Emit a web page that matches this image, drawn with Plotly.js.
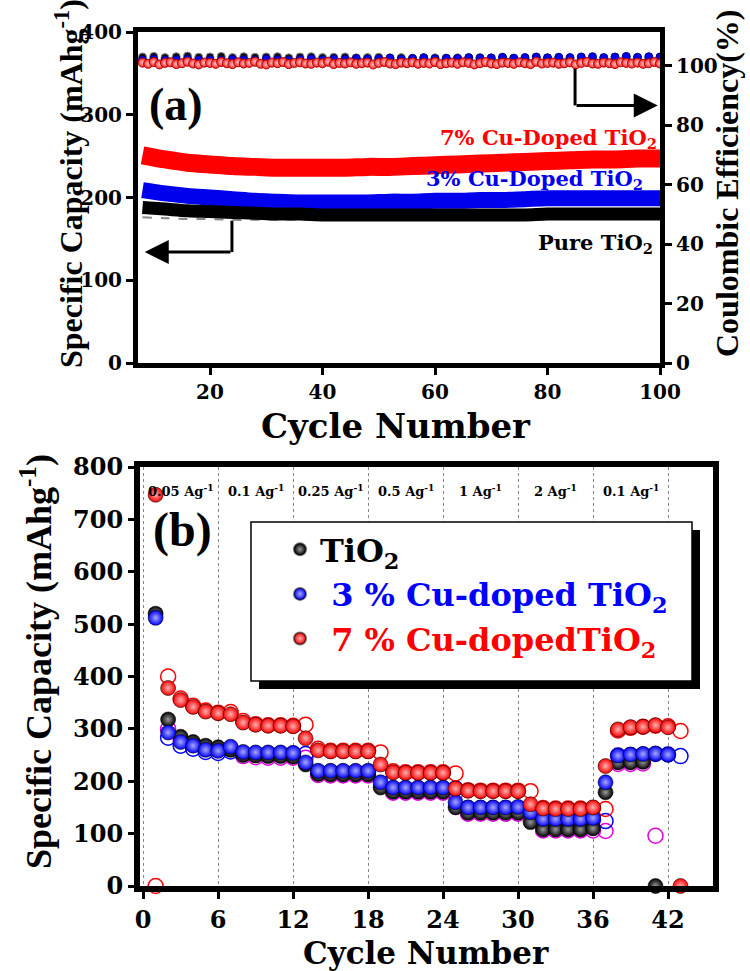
<!DOCTYPE html>
<html>
<head>
<meta charset="utf-8">
<script src="https://cdn.plot.ly/plotly-3.0.1.min.js"></script>
<style>
html,body{margin:0;padding:0;background:#fff;}
#chart{width:750px;height:971px;}
</style>
</head>
<body>
<div id="chart"></div>
<script>
// ---------- Panel (a): cycling at constant current ----------
const capCycles = [8,12,16,20,24,28,32,36,40,44,48,52,56,60,64,68,72,76,80,84,88,92,96,100];
const cap7 = [251,246,242,240,238,237,236,236,236,236,237,237,238,239,240,241,242,243,244,245,246,246,247,247];
const cap3 = [209,205,202,200,198,196,195,194,194,194,194,195,195,196,196,197,197,198,199,199,199,199,199,199];
const capPure = [188,186,184,183,182,181,180,180,179,179,179,179,179,179,179,179,179,179,180,180,180,180,180,180];
const capPureCharge = [176,175,174,174,173,173,173,173,173,173,173,173,173,173,173,173,173,173,174,174,174,174,174,174];

const ceCycles = [8,9,10,11,12,13,14,15,16,17,18,19,20,21,22,23,24,25,26,27,28,29,30,31,32,33,34,35,36,37,38,39,40,41,42,43,44,45,46,47,48,49,50,51,52,53,54,55,56,57,58,59,60,61,62,63,64,65,66,67,68,69,70,71,72,73,74,75,76,77,78,79,80,81,82,83,84,85,86,87,88,89,90,91,92,93,94,95,96,97,98,99,100];
const ce7 = [101.0,100.6,101.2,100.4,100.9,101.1,100.5,100.8,101.3,100.7,
             100.4,101.0,100.9,100.6,101.2,100.8,100.5,101.1,100.7,100.9,
             101.3,100.6,100.4,101.0,100.8,101.2,100.5,100.9,101.1,100.7,
             100.6,101.0,100.8,101.3,100.5,100.9,100.7,101.1,100.6,100.8,
             101.0,100.4,100.9,101.2,100.7,100.5,101.0,100.8,101.1,100.6,
             100.9,100.7,101.2,100.5,100.8,101.0,100.6,101.1,100.9,100.4,
             100.8,101.2,100.7,100.5,101.0,100.9,100.6,101.1,100.8,100.5,
             101.3,100.7,100.9,101.0,100.6,100.8,101.1,100.4,100.9,101.2,
             100.7,100.6,101.0,100.8,100.5,101.1,100.9,100.7,101.0,100.6,
             100.8,101.2,100.7];
const ceCycles2 = [8,10,12,14,16,18,20,22,24,26,28,30,32,34,36,38,40,42,44,46,48,50,52,54,56,58,60,62,64,66,68,70,72,74,76,78,80,82,84,86,88,90,92,94,96,98,100];
const cePure = [102.9,103.1,102.7,103.0,103.2,102.8,102.9,103.1,102.7,103.0,
                102.8,102.9,103.0,102.6,102.9,103.0,102.7,102.8,102.9,102.6,
                102.7,102.8,102.6,102.7,102.5,102.7,102.6,102.4,102.6,102.5,
                102.7,102.4,102.6,102.5,102.3,102.5,102.6,102.4,102.5,102.3,
                102.4,102.5,102.3,102.4,102.5,102.3,102.4];
const ce3 = [101.9,102.1,101.8,102.0,102.2,101.9,102.0,101.8,102.1,102.0,
             101.9,102.2,102.0,101.8,102.1,102.3,102.0,102.2,102.1,102.4,
             102.2,102.3,102.5,102.2,102.4,102.6,102.3,102.5,102.4,102.7,
             102.5,102.6,102.8,102.5,102.7,102.9,102.6,102.8,102.7,102.9,
             103.0,102.7,102.9,103.1,102.8,103.0,102.9];

// ---------- Panel (b): rate capability ----------
const rateCycles = [1,2,3,4,5,6,7,8,9,10,11,12,13,14,15,16,17,18,19,20,21,22,23,24,25,26,27,28,29,30,31,32,33,34,35,36,37,38,39,40,41,42,43];
const tio2Dis = [520,318,285,275,268,265,260,250,249,248,248,247,
                 232,214,213,213,213,213,
                 188,180,180,180,180,180,
                 150,140,140,140,140,140,
                 122,108,108,108,108,110,
                 179,236,236,237,0];
const tio2ChgX = [2,3,4,5,6,7,8,9,10,11,12,13,14,15,16,17,18,19,20,21,22,23,24,25,26,27,28,29,30,31,32,33,34,35,36,37,38,39,40,41];
const tio2Chg = [300,280,270,265,262,262,248,246,245,245,245,245,
                 212,211,211,211,211,211,
                 178,178,178,178,178,178,
                 138,138,138,138,138,138,
                 106,106,106,106,106,105,
                 233,233,234,96];
const cu3Dis = [512,293,275,268,260,258,266,256,255,255,255,254,
                236,220,220,220,220,220,
                198,188,188,188,188,188,
                160,150,150,150,150,151,
                141,128,128,128,128,130,
                198,249,251,252,253,251];
const cu3ChgX = [2,3,4,5,6,7,8,9,10,11,12,13,14,15,16,17,18,19,20,21,22,23,24,25,26,27,28,29,30,31,32,33,34,35,36,37,38,39,40,41,42,43];
const cu3Chg = [283,268,262,256,254,257,253,253,253,253,253,252,
                218,218,218,218,218,218,
                186,186,186,186,186,186,
                149,149,149,149,149,149,
                127,127,127,127,127,124,
                249,250,251,252,251,248];
const cu7Dis = [747,378,355,342,333,330,328,312,308,306,306,305,
                282,259,257,257,257,257,
                232,217,216,216,216,216,
                186,182,181,181,181,181,
                156,148,147,147,147,150,
                229,299,303,304,307,303,0];
const cu7Chg = [0,400,358,344,335,331,332,315,309,307,307,306,308,
                262,258,258,258,258,255,
                219,217,217,217,217,215,
                183,182,182,182,182,181,
                149,148,148,148,149,147,
                297,302,304,306,305,296];

const rateLabels = ['0.05','0.1','0.25','0.5','1','2','0.1'];
const rateCenters = [3,9,15,21,27,33,39];
const xTicksB = [0,6,12,18,24,30,36,42];

// ---------- styling ----------
const DV = 'DejaVu Serif';
const LS = 'Liberation Serif';
const W = 750, H = 971;
const px = v => v / W;
const py = v => (H - v) / H;

function sphere(color, light, size) {
  return {size: size, color: color, line: {color: 'rgba(0,0,0,0.55)', width: 1},
          gradient: {type: 'radial', color: light}};
}

const data = [
  // panel (a) capacity bands
  {x: capCycles, y: capPureCharge, xaxis: 'x', yaxis: 'y', mode: 'lines', showlegend: false,
   line: {color: '#888', width: 2, dash: 'dash', shape: 'spline'}},
  {x: capCycles, y: cap7, xaxis: 'x', yaxis: 'y', mode: 'lines', showlegend: false,
   line: {color: '#ff0000', width: 18, shape: 'spline'}},
  {x: capCycles, y: cap3, xaxis: 'x', yaxis: 'y', mode: 'lines', showlegend: false,
   line: {color: '#0000ee', width: 16, shape: 'spline'}},
  {x: capCycles, y: capPure, xaxis: 'x', yaxis: 'y', mode: 'lines', showlegend: false,
   line: {color: '#000000', width: 13, shape: 'spline'}},
  // panel (a) coulombic efficiency
  {x: ceCycles2, y: cePure, xaxis: 'x', yaxis: 'y3', mode: 'markers', showlegend: false,
   marker: {size: 8, color: '#111', line: {color: '#888', width: 1}}},
  {x: ceCycles2, y: ce3, xaxis: 'x', yaxis: 'y3', mode: 'markers', showlegend: false,
   marker: {size: 8, color: '#0000ee', line: {color: '#000088', width: 1}}},
  {x: ceCycles, y: ce7, xaxis: 'x', yaxis: 'y3', mode: 'markers', showlegend: false,
   marker: {size: 9, color: '#ff2020', line: {color: '#b00000', width: 1},
            gradient: {type: 'radial', color: '#ffc8c8'}}},
  // panel (b) charge (open) markers
  {x: tio2ChgX, y: tio2Chg, xaxis: 'x2', yaxis: 'y2', mode: 'markers', showlegend: false, cliponaxis: false,
   marker: {symbol: 'circle-open', size: 15, color: '#e000e0', line: {width: 1.5}}},
  {x: cu3ChgX, y: cu3Chg, xaxis: 'x2', yaxis: 'y2', mode: 'markers', showlegend: false, cliponaxis: false,
   marker: {symbol: 'circle-open', size: 15, color: '#0000ff', line: {width: 1.5}}},
  {x: rateCycles, y: cu7Chg, xaxis: 'x2', yaxis: 'y2', mode: 'markers', showlegend: false, cliponaxis: false,
   marker: {symbol: 'circle-open', size: 15, color: '#ff0000', line: {width: 1.5}}},
  // panel (b) discharge (filled) markers
  {x: rateCycles.slice(0, tio2Dis.length), y: tio2Dis, xaxis: 'x2', yaxis: 'y2', mode: 'markers', cliponaxis: false,
   name: 'TiO<sub>2</sub>', marker: sphere('#000000', '#9a9a9a', 15)},
  {x: rateCycles.slice(0, cu3Dis.length), y: cu3Dis, xaxis: 'x2', yaxis: 'y2', mode: 'markers', cliponaxis: false,
   name: '<span style="color:#0000ff"> 3 % Cu-doped TiO<sub>2</sub></span>', marker: sphere('#0000ff', '#a8a8ff', 15)},
  {x: rateCycles, y: cu7Dis, xaxis: 'x2', yaxis: 'y2', mode: 'markers', cliponaxis: false,
   name: '<span style="color:#ff0000"> 7 % Cu-dopedTiO<sub>2</sub></span>', marker: sphere('#ff0000', '#ffb0b0', 15)}
];

const axisCommon = {
  showline: true, linecolor: '#000', zeroline: false, showgrid: false,
  ticks: 'outside', tickcolor: '#000', tickwidth: 3,
  tickfont: {family: DV, size: 20, color: '#000', weight: 'bold'}
};

function note(text, x, y, font, extra) {
  return Object.assign({text: text, x: px(x), y: py(y), xref: 'paper', yref: 'paper',
    xanchor: 'center', yanchor: 'middle', showarrow: false, font: font}, extra || {});
}

const annotations = [
  note('(a)', 176, 104, {family: LS, size: 46, weight: 'bold', color: '#000'}),
  note('7% Cu-Doped TiO<sub>2</sub>', 659, 138, {family: DV, size: 21, weight: 'bold', color: '#ff0000'}, {xanchor: 'right'}),
  note('3% Cu-Doped TiO<sub>2</sub>', 645, 179, {family: DV, size: 21, weight: 'bold', color: '#0000ee'}, {xanchor: 'right'}),
  note('Pure TiO<sub>2</sub>', 655, 243, {family: DV, size: 21, weight: 'bold', color: '#000'}, {xanchor: 'right'}),
  // axis titles drawn as text
  note('Specific Capacity (mAhg<sup>-1</sup>)', 69, 184, {family: LS, size: 32, weight: 'bold', color: '#000'}, {textangle: -90}),
  note('Coulombic Efficiency(%)', 727, 183, {family: LS, size: 32, weight: 'bold', color: '#000'}, {textangle: -90}),
  note('Cycle Number', 396, 426, {family: DV, size: 34, weight: 'bold', color: '#000'}, {borderpad: 0}),
  note('Specific Capacity (mAhg<sup>-1</sup>)', 37, 662, {family: LS, size: 36, weight: 'bold', color: '#000'}, {textangle: -90}),
  note('Cycle Number', 426, 953, {family: DV, size: 31, weight: 'bold', color: '#000'}, {borderpad: 0}),
  note('(b)', 182, 530, {family: LS, size: 48, weight: 'bold', color: '#000'}),
  // arrows
  {x: 8.4, y: 134, xref: 'x', yref: 'y', ax: 23.9, ay: 134, axref: 'x', ayref: 'y', text: '',
   showarrow: true, arrowhead: 2, arrowsize: 1.6, arrowwidth: 3, arrowcolor: '#000'},
  {x: 99.6, y: 86.6, xref: 'x', yref: 'y3', ax: 84.9, ay: 86.6, axref: 'x', ayref: 'y3', text: '',
   showarrow: true, arrowhead: 2, arrowsize: 1.6, arrowwidth: 3, arrowcolor: '#000'}
];
rateLabels.forEach((r, i) => {
  annotations.push({text: r + ' Ag<sup>-1</sup>', x: rateCenters[i], y: py(490), xref: 'x2', yref: 'paper',
    xanchor: 'center', yanchor: 'middle',
    showarrow: false, font: {family: DV, size: 13, weight: 'bold', color: '#000'}});
});

const layout = {
  width: W, height: H,
  margin: {l: 0, r: 0, t: 0, b: 0},
  paper_bgcolor: '#fff', plot_bgcolor: 'rgba(0,0,0,0)',
  font: {family: DV, color: '#000'},
  xaxis: Object.assign({}, axisCommon, {
    domain: [px(138), px(660)], anchor: 'y', range: [7.2, 100],
    tickvals: [20, 40, 60, 80, 100], ticklen: 7, linewidth: 5, mirror: true
  }),
  yaxis: Object.assign({}, axisCommon, {
    domain: [py(363), py(32)], anchor: 'x', range: [0, 400], dtick: 100, ticklen: 7, linewidth: 5, mirror: true
  }),
  yaxis3: Object.assign({}, axisCommon, {
    overlaying: 'y', side: 'right', anchor: 'x', range: [0, 111.3],
    tickvals: [0, 20, 40, 60, 80, 100], ticklen: 7, linewidth: 5
  }),
  xaxis2: Object.assign({}, axisCommon, {
    domain: [px(140), px(713)], anchor: 'y2', range: [-0.25, 45.6],
    tickvals: xTicksB, ticklen: 7, linewidth: 6, mirror: true,
    showgrid: true, gridcolor: '#888', griddash: 'dot', gridwidth: 1,
    tickfont: {family: DV, size: 24, color: '#000', weight: 'bold'}
  }),
  yaxis2: Object.assign({}, axisCommon, {
    domain: [py(886), py(467)], anchor: 'x2', range: [0, 800], dtick: 100, ticklen: 6, linewidth: 6, mirror: true,
    tickfont: {family: DV, size: 24, color: '#000', weight: 'bold'}
  }),
  showlegend: true,
  legend: {
    x: px(280), y: py(522), xanchor: 'left', yanchor: 'top',
    bgcolor: 'rgba(0,0,0,0)', borderwidth: 0,
    font: {family: DV, size: 32, weight: 'bold', color: '#000'},
    itemsizing: 'constant', tracegroupgap: 0
  },
  shapes: [
    {type: 'rect', xref: 'paper', yref: 'paper', x0: px(259), x1: px(700), y0: py(689), y1: py(530),
     fillcolor: '#000', line: {width: 0}, layer: 'above'},
    {type: 'rect', xref: 'paper', yref: 'paper', x0: px(251), x1: px(692), y0: py(681), y1: py(522),
     fillcolor: '#fff', line: {color: '#000', width: 1.5}, layer: 'above'},
    {type: 'line', xref: 'x', yref: 'y', x0: 23.9, x1: 23.9, y0: 172, y1: 134,
     line: {color: '#000', width: 3}},
    {type: 'line', xref: 'x', yref: 'y3', x0: 84.9, x1: 84.9, y0: 99, y1: 86.6,
     line: {color: '#000', width: 3}}
  ],
  annotations: annotations
};

Plotly.newPlot('chart', data, layout, {displayModeBar: false, staticPlot: true});
</script>
</body>
</html>
